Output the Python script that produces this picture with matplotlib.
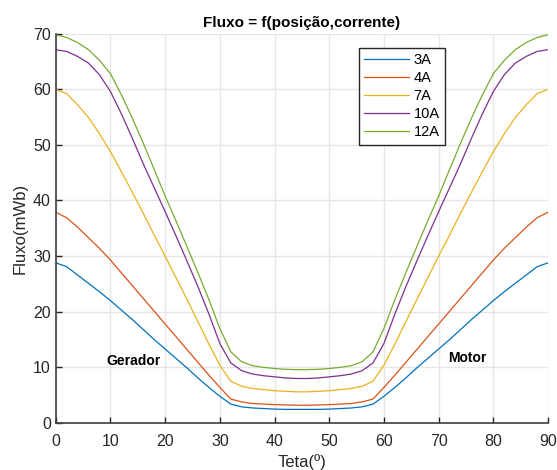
import matplotlib
matplotlib.use("Agg")
import matplotlib.pyplot as plt
import numpy as np

plt.rcParams['font.family'] = ['Liberation Sans', 'DejaVu Sans']

# angle samples (half period, mirrored about 45 degrees)
theta_half = [0, 2, 4, 6, 8, 10, 12, 14, 16, 18, 20, 22, 24, 26, 28, 30, 32, 34, 36, 38, 40, 42, 44]

flux_3A = [28.8, 28.1, 26.6, 25.1, 23.6, 22.0, 20.3, 18.6, 16.8, 15.0, 13.3, 11.6, 9.9, 8.1, 6.4, 4.8, 3.4,
           2.9, 2.7, 2.6, 2.5, 2.45, 2.45]
flux_4A = [37.9, 36.9, 35.2, 33.3, 31.4, 29.3, 27.0, 24.7, 22.4, 20.1, 17.8, 15.5, 13.2, 10.9, 8.6, 6.4, 4.3,
           3.8, 3.5, 3.4, 3.3, 3.25, 3.2]
flux_7A = [60.0, 59.2, 57.2, 54.9, 52.0, 48.8, 45.2, 41.5, 37.7, 33.8, 30.0, 26.1, 22.2, 18.2, 14.2, 10.4, 7.5,
           6.6, 6.2, 6.0, 5.8, 5.7, 5.6]
flux_10A = [67.1, 66.8, 65.9, 64.7, 62.6, 59.6, 55.6, 51.2, 46.6, 42.3, 38.0, 33.6, 29.1, 24.5, 19.6, 14.3, 10.8,
            9.4, 8.8, 8.5, 8.3, 8.1, 8.0]
flux_12A = [69.8, 69.3, 68.4, 67.1, 65.2, 62.8, 59.0, 54.8, 50.3, 45.6, 40.8, 36.3, 31.7, 27.0, 22.2, 17.0, 12.8,
            11.0, 10.3, 10.0, 9.8, 9.65, 9.6]

labels = ['3A', '4A', '7A', '10A', '12A']
colors = ['#0072BD', '#D95319', '#EDB120', '#7E2F8E', '#77AC30']

def full(half):
    th = np.array(theta_half, dtype=float)
    v = np.array(half, dtype=float)
    x = np.concatenate([th, 90 - th[::-1]])
    y = np.concatenate([v, v[::-1]])
    return x, y

fig = plt.figure(figsize=(5.57, 4.70), dpi=100)
ax = fig.add_axes([0.100, 0.100, 0.884, 0.8285])

for series, lab, c in zip([flux_3A, flux_4A, flux_7A, flux_10A, flux_12A], labels, colors):
    x, y = full(series)
    ax.plot(x, y, color=c, lw=0.9, label=lab)

ax.set_xlim(0, 90)
ax.set_ylim(0, 70)
ax.set_xticks(np.arange(0, 91, 10))
ax.set_yticks(np.arange(0, 71, 10))
ax.grid(True, color='#e6e6e6', lw=1.0)
ax.set_axisbelow(True)
for s in ['top', 'right']:
    ax.spines[s].set_visible(False)
for s in ['left', 'bottom']:
    ax.spines[s].set_color('#404040')
    ax.spines[s].set_linewidth(1.2)
ax.tick_params(direction='in', length=4, width=1, color='#262626', labelsize=11.5, labelcolor='#262626')
ax.tick_params(axis='x', pad=8)

ax.set_title('Fluxo = f(posição,corrente)', fontsize=11, fontweight='bold', pad=5)
ax.set_xlabel('Teta(º)', fontsize=12, color='#262626', labelpad=3.5)
ax.set_ylabel('Fluxo(mWb)', fontsize=12, color='#262626', labelpad=4)

ax.text(14.2, 11.1, 'Gerador', fontsize=10, fontweight='bold', ha='center', va='center')
ax.text(75.2, 11.7, 'Motor', fontsize=10, fontweight='bold', ha='center', va='center')

leg = fig.legend(loc='upper left', bbox_to_anchor=(359/557, 1 - 48/470), fontsize=10.5,
                 frameon=True, fancybox=False, framealpha=1, edgecolor='#262626',
                 handlelength=3.1, handletextpad=0.3, labelspacing=0.28, borderpad=0.35,
                 borderaxespad=0)
leg.get_frame().set_linewidth(1.0)

fig.savefig('out.png', dpi=100)
